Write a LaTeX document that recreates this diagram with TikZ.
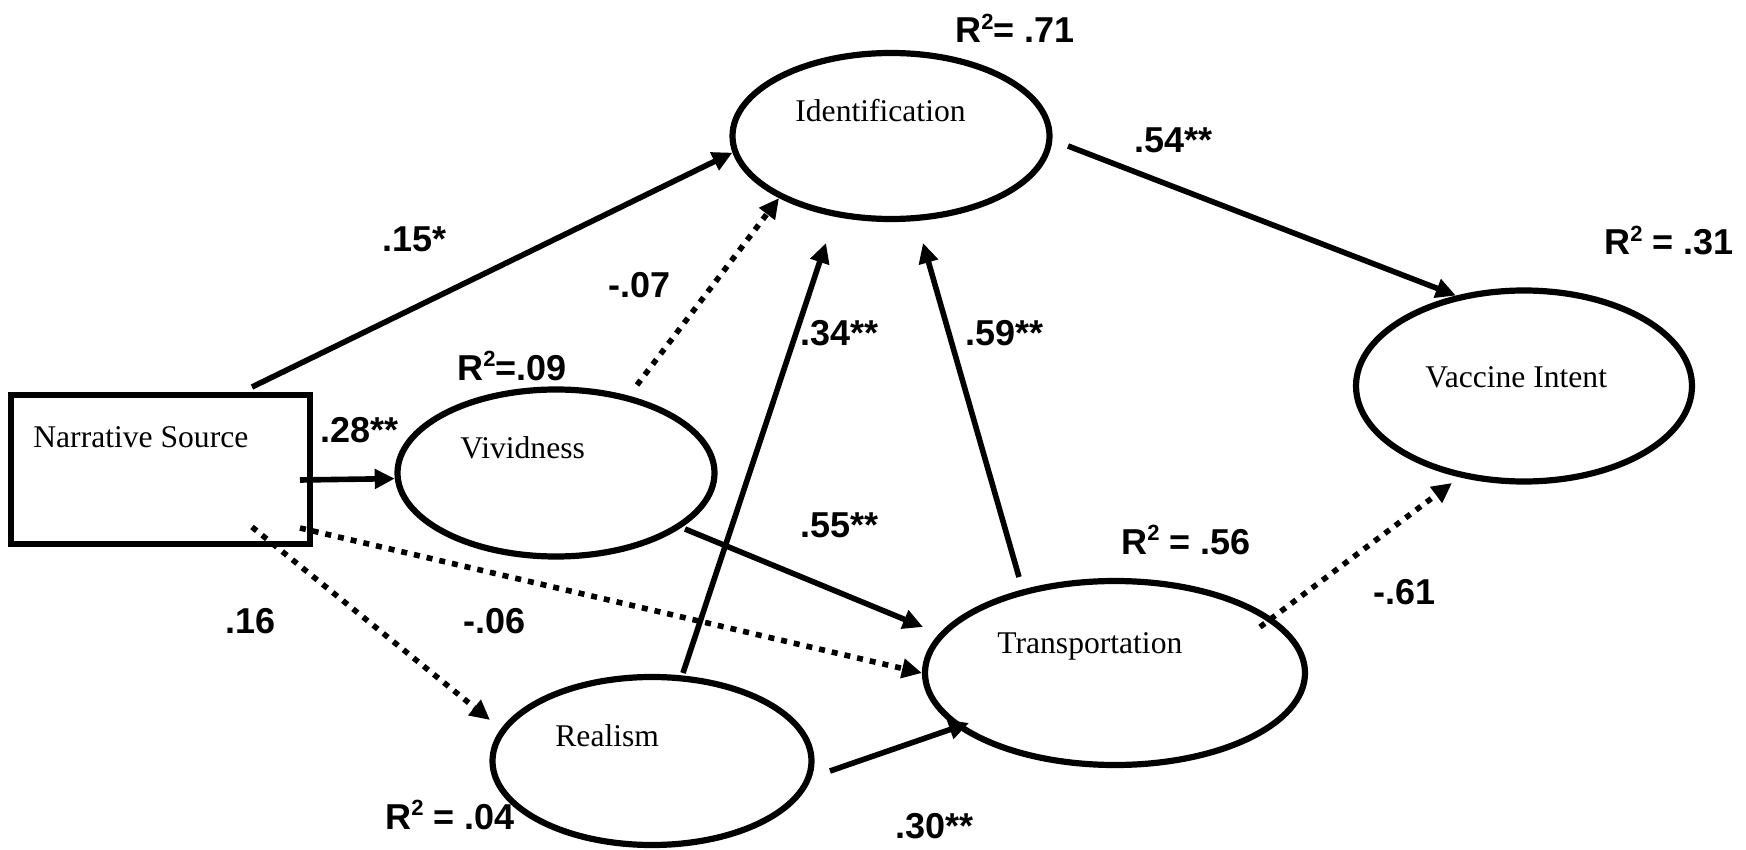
\documentclass[tikz,border=0pt]{standalone}
\usepackage{fontspec}
\setmainfont{Liberation Serif}
\newfontfamily\coeffont{Liberation Sans}
\usetikzlibrary{arrows.meta,shapes.geometric}

% R-squared with a raised 2
\newcommand\rsq{R\raisebox{6.6pt}{\fontsize{11}{11}\selectfont 2}}

\tikzset{
  box/.style={rectangle, draw, line width=3.1pt, inner sep=0pt},
  latent/.style={ellipse, draw, line width=3.1pt, inner sep=0pt},
  varname/.style={font=\fontsize{15.8}{18}\selectfont, anchor=base west, inner sep=0pt},
  coef/.style={font=\coeffont\bfseries\fontsize{18}{20}\selectfont, anchor=base west, inner sep=0pt},
  solidarrow/.style={line width=2.8pt, -{Triangle[length=10pt,width=9.5pt]}},
  dotarrow/.style={solidarrow, dash pattern=on 3pt off 3.5pt},
}

\begin{document}
\begin{tikzpicture}[x=0.5pt, y=-0.5pt]
\useasboundingbox (0,0) rectangle (1746,850);

% variables
\node[box, minimum width=149.5pt, minimum height=74.5pt] (ns) at (160.5,469.5) {};
\node[latent, minimum width=158.5pt, minimum height=83pt] (id) at (891,136) {};
\node[latent, minimum width=158.5pt, minimum height=83.5pt] (viv) at (556,473) {};
\node[latent, minimum width=159.5pt, minimum height=84pt] (re) at (652,761) {};
\node[latent, minimum width=190pt, minimum height=92pt] (tr) at (1115,673) {};
\node[latent, minimum width=168pt, minimum height=95.5pt] (vi) at (1524,386) {};

% variable names
\node[varname] (nstext) at (33,447) {Narrative Source};
\node[varname] (idtext) at (795,122) {Identification};
\node[varname] (vivtext) at (460,458) {Vividness};
\node[varname] (retext) at (555,746) {Realism};
\node[varname] (trtext) at (997,653) {Transportation};
\node[varname] (vitext) at (1425,387) {Vaccine Intent};

% explained variance
\node[coef] (r2id) at (955,43) {\rsq= .71};
\node[coef] (r2vi) at (1604,255) {\rsq{} = .31};
\node[coef] (r2viv) at (457,380) {\rsq=.09};
\node[coef] (r2tr) at (1121,554) {\rsq{} = .56};
\node[coef] (r2re) at (385,829) {\rsq{} = .04};

% path start points
\coordinate (s15) at (252,387);
\coordinate (s07) at (637,385);
\coordinate (s28) at (300,480);
\coordinate (s34) at (683,673);
\coordinate (s59) at (1019,577);
\coordinate (s55) at (685,529);
\coordinate (s06) at (300,528);
\coordinate (s16) at (252,527);
\coordinate (s30) at (830,771);
\coordinate (s54) at (1068,146);
\coordinate (s61) at (1260,627);
% tips that stop short of their variable
\coordinate (t34) at (826,243);
\coordinate (t59) at (923,243);
\coordinate (t55) at (923,627);
\coordinate (t16) at (490,720);
\coordinate (t30) at (969,723);
\coordinate (t61) at (1452,483);

% paths
\draw[solidarrow] (s15) -- (id.186);
\draw[dotarrow] (s07) -- (id.209);
\draw[solidarrow] (s28) -- (viv.182);
\draw[solidarrow] (s34) -- (t34);
\draw[solidarrow] (s59) -- (t59);
\draw[solidarrow] (s55) -- (t55);
\draw[dotarrow] (s06) -- (tr.180);
\draw[dotarrow] (s16) -- (t16);
\draw[solidarrow] (s30) -- (t30);
\draw[solidarrow] (s54) -- (vi.127);
\draw[dotarrow] (s61) -- (t61);

% path coefficients
\node[coef] (c15) at (382,252) {.15*};
\node[coef] (c07) at (608,298) {-.07};
\node[coef] (c28) at (320,442) {.28**};
\node[coef] (c34) at (800,345) {.34**};
\node[coef] (c59) at (965,345) {.59**};
\node[coef] (c55) at (800,537) {.55**};
\node[coef] (c06) at (463,633) {-.06};
\node[coef] (c16) at (225,633) {.16};
\node[coef] (c30) at (895,838) {.30**};
\node[coef] (c54) at (1134,153) {.54**};
\node[coef] (c61) at (1373,604) {-.61};
\end{tikzpicture}
\end{document}
